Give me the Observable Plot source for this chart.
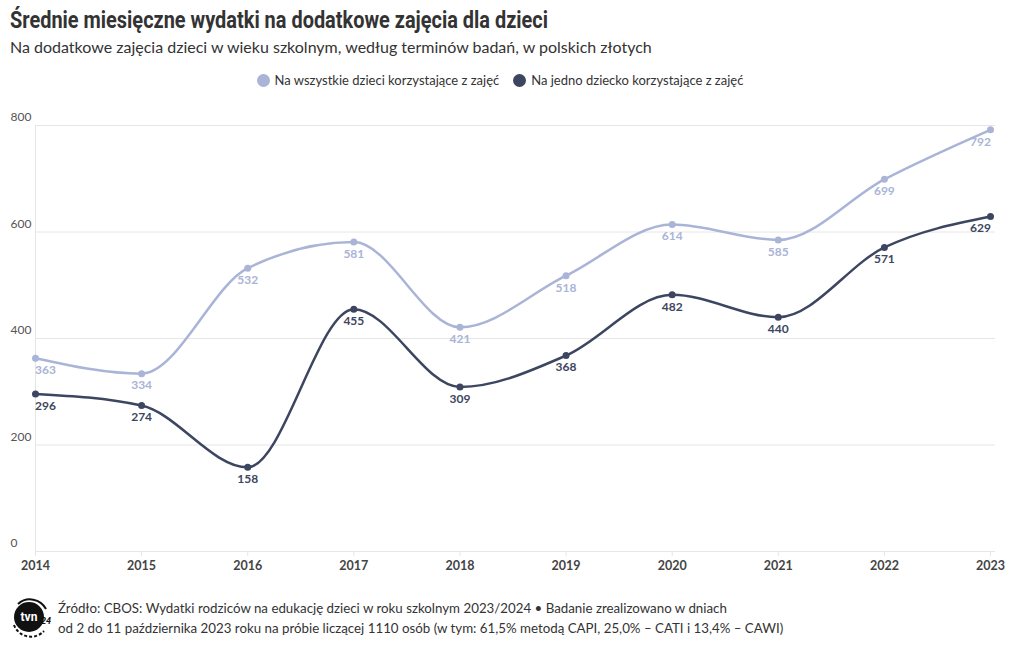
<!DOCTYPE html>
<html><head><meta charset="utf-8">
<script src="https://cdn.jsdelivr.net/npm/d3@7"></script>
<script src="https://cdn.jsdelivr.net/npm/@observablehq/plot@0.6"></script>
<style>
body{margin:0;background:#fff;font-family:Lato,"Open Sans",sans-serif;color:#333;}
#wrap{width:1020px;height:650px;position:relative;overflow:hidden}
#title{position:absolute;left:10px;top:7px;font-family:Roboto,sans-serif;font-weight:bold;font-size:23px;color:#333;white-space:nowrap;transform-origin:0 0;}
#sub{position:absolute;left:10px;top:37px;font-size:16px;color:#333;}
#legend{position:absolute;top:72px;left:-10px;width:1020px;text-align:center;font-size:13px;color:#333;}
#legend span.item{display:inline-flex;align-items:center;margin:0 7px;}
#legend span.dot{display:inline-block;width:13px;height:13px;border-radius:50%;margin-right:5px;}
#chart{position:absolute;left:0;top:100px;}
#foot{position:absolute;left:58px;top:598px;font-size:13.3px;line-height:20px;color:#333;}
#logo{position:absolute;left:10px;top:597px;}
</style></head>
<body><div id="wrap">
<div id="title">Średnie miesięczne wydatki na dodatkowe zajęcia dla dzieci</div>
<div id="sub">Na dodatkowe zajęcia dzieci w wieku szkolnym, według terminów badań, w polskich złotych</div>
<div id="legend"></div>
<div id="chart"></div>
<svg id="logo" width="44" height="44" viewBox="0 0 44 44">
<circle cx="19" cy="20" r="15" fill="#111"/>
<path d="M4 28 A18 18 0 0 0 34 34" fill="none" stroke="#111" stroke-width="2" stroke-dasharray="3 2"/>
<path d="M8 7 A18 18 0 0 1 36 12" fill="none" stroke="#111" stroke-width="2"/>
<text x="19" y="24" text-anchor="middle" font-family="Roboto,sans-serif" font-weight="bold" font-size="12" fill="#fff">tvn</text>
<text x="36" y="27" text-anchor="middle" font-family="Roboto,sans-serif" font-style="italic" font-weight="bold" font-size="9" fill="#111">24</text>
</svg>
<div id="foot">Źródło: CBOS: Wydatki rodziców na edukację dzieci w roku szkolnym 2023/2024 • Badanie zrealizowano w dniach<br>od 2 do 11 października 2023 roku na próbie liczącej 1110 osób (w tym: 61,5% metodą CAPI, 25,0% – CATI i 13,4% – CAWI)</div>
</div>
<script>
const years = [2014,2015,2016,2017,2018,2019,2020,2021,2022,2023];
const allChildren = [363,334,532,581,421,518,614,585,699,792];
const perChild = [296,274,158,455,309,368,482,440,571,629];
const seriesNames = ["Na wszystkie dzieci korzystające z zajęć","Na jedno dziecko korzystające z zajęć"];
const seriesColors = ["#aab4d6","#3d4660"];
const yTicks = [0,200,400,600,800];

// condense title to reference width
const t = document.getElementById("title");
const tw = t.getBoundingClientRect().width;
t.style.transform = `scaleX(${538/tw})`;

const data = [];
years.forEach((y,i)=>{
  data.push({year:y, value:allChildren[i], s:seriesNames[0]});
  data.push({year:y, value:perChild[i], s:seriesNames[1]});
});

const leg = document.getElementById("legend");
seriesNames.forEach((n,i)=>{
  leg.insertAdjacentHTML("beforeend",`<span class="item"><span class="dot" style="background:${seriesColors[i]}"></span>${n}</span>`);
});

const first = years[0], last = years[years.length-1];
const labelOpts = {x:"year", y:"value", text:d=>String(d.value), fill:"s", dy:12, fontSize:12, fontWeight:"bold"};

const chart = Plot.plot({
  width:1020, height:480,
  marginLeft:35, marginRight:25, marginTop:25, marginBottom:29,
  style:{fontFamily:"Lato, sans-serif", background:"transparent"},
  x:{domain:[2014,2023], insetRight:5, axis:null},
  y:{domain:[0,800], axis:null},
  color:{domain:seriesNames, range:seriesColors},
  marks:[
    Plot.gridY(yTicks,{stroke:"#e6e6e6", strokeOpacity:1}),
    Plot.ruleX([2014],{y1:0,y2:800,stroke:"#e6e6e6"}),
    Plot.text(yTicks,{y:d=>d, frameAnchor:"left", dx:-25, dy:-8, textAnchor:"start", text:d=>String(d), fontSize:12, fill:"#555"}),
    Plot.axisX({ticks:years, tickSize:5, stroke:"#e6e6e6", tickPadding:5, fontSize:12.5, fontWeight:"bold", fill:"#444", tickFormat:d=>String(d), label:null}),
    Plot.line(data,{x:"year", y:"value", stroke:"s", strokeWidth:2.5, curve:"monotone-x"}),
    Plot.dot(data,{x:"year", y:"value", fill:"s", r:3.5}),
    Plot.text(data.filter(d=>d.year!==first && d.year!==last), labelOpts),
    Plot.text(data.filter(d=>d.year===first), {...labelOpts, dx:10}),
    Plot.text(data.filter(d=>d.year===last), {...labelOpts, dx:-10})
  ]
});
document.getElementById("chart").appendChild(chart);
</script>
</body></html>
